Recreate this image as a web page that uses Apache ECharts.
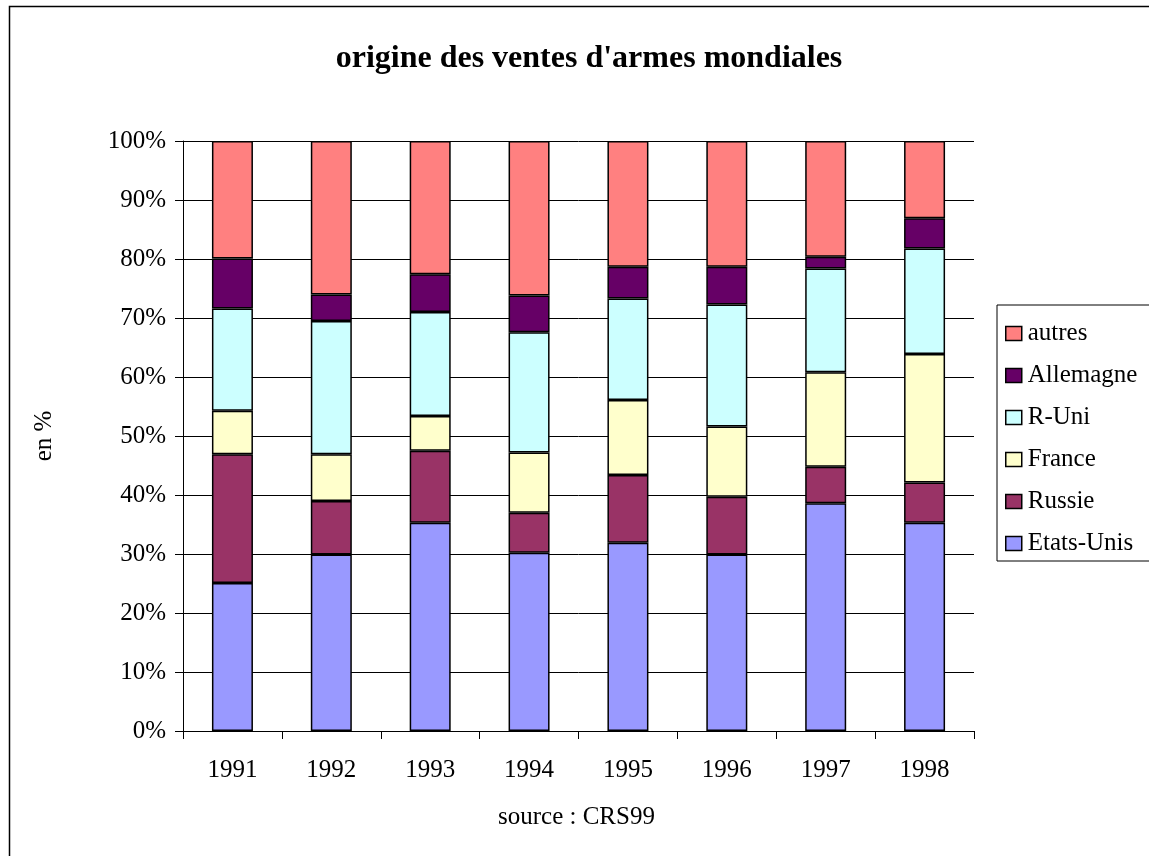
<!DOCTYPE html>
<html>
<head>
<meta charset="utf-8">
<script src="https://cdn.jsdelivr.net/npm/echarts@6/dist/echarts.min.js"></script>
<style>
  html, body { margin: 0; padding: 0; background: #fff; }
  #chart { width: 1149px; height: 856px; }
</style>
</head>
<body>
<div id="chart"></div>
<script>
// années
var years = ['1991', '1992', '1993', '1994', '1995', '1996', '1997', '1998'];
// parts en %
var etatsUnis = [25.1, 29.9, 35.3, 30.2, 31.9, 29.9, 38.6, 35.3];
var russie    = [21.8, 9.1, 12.2, 6.8, 11.5, 9.8, 6.2, 6.8];
var france    = [7.4, 7.9, 5.9, 10.2, 12.7, 11.9, 16.0, 21.8];
var rUni      = [17.3, 22.6, 17.6, 20.4, 17.2, 20.7, 17.6, 17.9];
var allemagne = [8.5, 4.5, 6.4, 6.2, 5.4, 6.4, 2.0, 5.1];
var autres    = [19.9, 26.0, 22.6, 26.2, 21.3, 21.3, 19.6, 13.1];

var font = 'Liberation Serif, Times New Roman, serif';

function serie(name, data, color) {
    return {
        name: name,
        type: 'bar',
        stack: 'total',
        barWidth: 41,
        data: data,
        itemStyle: { color: color, borderColor: '#000', borderWidth: 1.5 }
    };
}

var mychart = echarts.init(document.getElementById('chart'));
var option = {
    animation: false,
    backgroundColor: '#fff',
    title: {
        text: "origine des ventes d'armes mondiales",
        left: 584,
        textAlign: 'center',
        top: 38,
        textStyle: { fontFamily: font, fontSize: 32, fontWeight: 'bold', color: '#000' }
    },
    graphic: [{
        // cadre du graphique (coupé à droite et en bas)
        type: 'rect',
        shape: { x: 9.5, y: 6.5, width: 1200, height: 900 },
        style: { fill: 'none', stroke: '#000', lineWidth: 1.5 },
        z: -1
    }, {
        type: 'text',
        left: 498,
        top: 805,
        style: { text: 'source : CRS99', font: '25px ' + font, fill: '#000' }
    }],
    legend: {
        orient: 'vertical',
        left: 997,
        top: 305,
        padding: [16, 60, 5, 8],
        itemWidth: 16,
        itemHeight: 14,
        itemGap: 17,
        icon: 'rect',
        backgroundColor: '#fff',
        borderColor: '#000',
        borderWidth: 1,
        data: ['autres', 'Allemagne', 'R-Uni', 'France', 'Russie', 'Etats-Unis'],
        itemStyle: { borderColor: '#000', borderWidth: 1.5 },
        textStyle: { fontFamily: font, fontSize: 25, color: '#000', padding: [0, 0, 0, 1] }
    },
    grid: { left: 183, top: 141, width: 791, height: 590 },
    xAxis: {
        type: 'category',
        data: years,
        axisLine: { lineStyle: { color: '#000', width: 1 } },
        axisTick: { show: true, length: 8, lineStyle: { color: '#000' } },
        axisLabel: { fontFamily: font, fontSize: 25, color: '#000', margin: 27 }
    },
    yAxis: {
        type: 'value',
        min: 0,
        max: 100,
        interval: 10,
        name: 'en %',
        nameLocation: 'middle',
        nameRotate: 90,
        nameGap: 126,
        nameTextStyle: { fontFamily: font, fontSize: 25, color: '#000' },
        axisLine: { show: true, lineStyle: { color: '#000', width: 1 } },
        axisTick: { show: true, length: 8, lineStyle: { color: '#000' } },
        splitLine: { lineStyle: { color: '#000', width: 1 } },
        axisLabel: {
            fontFamily: font, fontSize: 25, color: '#000', margin: 17,
            formatter: function (v) { return v + '%'; }
        }
    },
    series: [
        serie('Etats-Unis', etatsUnis, '#9999FF'),
        serie('Russie', russie, '#993366'),
        serie('France', france, '#FFFFCC'),
        serie('R-Uni', rUni, '#CCFFFF'),
        serie('Allemagne', allemagne, '#660066'),
        serie('autres', autres, '#FF8080')
    ]
};
mychart.setOption(option);
</script>
</body>
</html>
